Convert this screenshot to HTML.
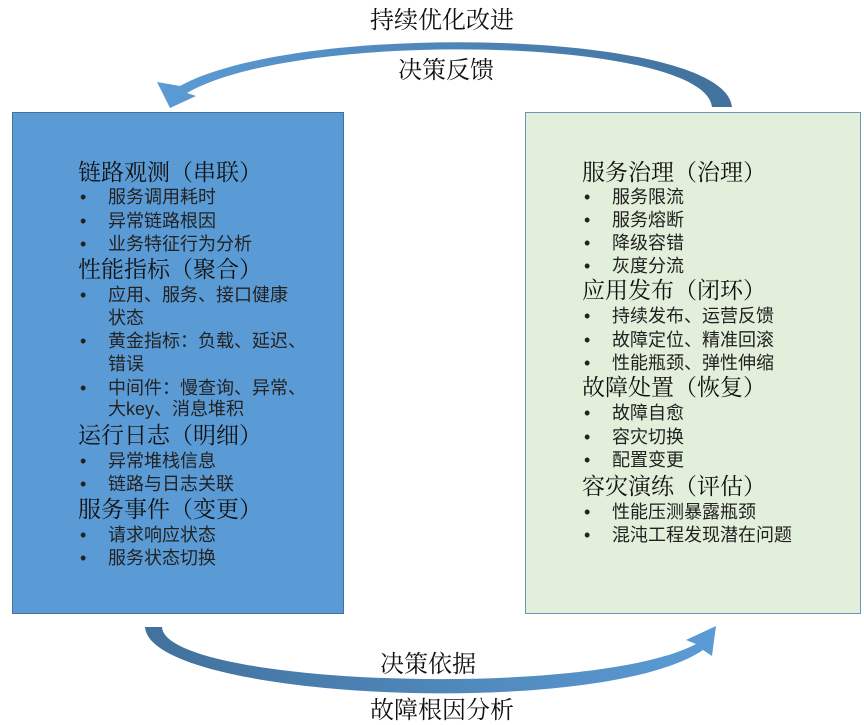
<!DOCTYPE html>
<html><head><meta charset="utf-8"><style>
html,body{margin:0;padding:0;background:#fff;}
svg{display:block;}
.h{font-family:"Liberation Serif","Noto Serif CJK SC",serif;font-size:23px;fill:#111;}
.b{font-family:"Liberation Sans","Noto Sans CJK SC",sans-serif;font-size:18px;fill:#222;}
.t{font-family:"Liberation Serif","Noto Serif CJK SC",serif;font-size:24px;fill:#111;}
</style></head><body>
<svg width="864" height="725" viewBox="0 0 864 725" xmlns="http://www.w3.org/2000/svg">
<defs>
<linearGradient id="g1" x1="0" y1="0" x2="1" y2="0">
<stop offset="0" stop-color="#5b9bd5"/><stop offset="1" stop-color="#41719c"/></linearGradient>
<linearGradient id="g2" x1="0" y1="0" x2="1" y2="0">
<stop offset="0" stop-color="#41719c"/><stop offset="1" stop-color="#5b9bd5"/></linearGradient>
</defs>
<rect x="12.5" y="112.5" width="331" height="501" fill="#5b9bd5" stroke="#41719c" stroke-width="1"/>
<rect x="525.5" y="112.5" width="335" height="501" fill="#e2efda" stroke="#6f94b8" stroke-width="1"/>
<path d="M732,107 C725,30 300,20 180,86 L157,82 L170,108 L196,96 L187,93 C300,28 705,38 712,107 Z" fill="url(#g1)"/>
<path d="M145,627 C150,700 600,720 703,650 L712,656 L716,626 L686,640 L696,644 C590,700 165,685 162,627 Z" fill="url(#g2)"/>
<text class="t" x="370" y="28">持续优化改进</text>
<text class="t" x="398" y="78">决策反馈</text>
<text class="t" x="380" y="672">决策依据</text>
<text class="t" x="370" y="718">故障根因分析</text>
<g class="b">
<text x="78" y="180" class="h">链路观测（串联）</text>
<text x="80" y="203">•</text><text x="108" y="203">服务调用耗时</text>
<text x="80" y="227">•</text><text x="108" y="227">异常链路根因</text>
<text x="80" y="250">•</text><text x="108" y="250">业务特征行为分析</text>
<text x="78" y="277" class="h">性能指标（聚合）</text>
<text x="80" y="301">•</text><text x="108" y="301">应用、服务、接口健康</text>
<text x="108" y="324">状态</text>
<text x="80" y="347">•</text><text x="108" y="347">黄金指标：负载、延迟、</text>
<text x="108" y="370">错误</text>
<text x="80" y="394">•</text><text x="108" y="394">中间件：慢查询、异常、</text>
<text x="108" y="415">大key、消息堆积</text>
<text x="78" y="443" class="h">运行日志（明细）</text>
<text x="80" y="467">•</text><text x="108" y="467">异常堆栈信息</text>
<text x="80" y="490">•</text><text x="108" y="490">链路与日志关联</text>
<text x="78" y="517" class="h">服务事件（变更）</text>
<text x="80" y="541">•</text><text x="108" y="541">请求响应状态</text>
<text x="80" y="564">•</text><text x="108" y="564">服务状态切换</text>

<text x="582" y="180" class="h">服务治理（治理）</text>
<text x="584" y="203">•</text><text x="612" y="203">服务限流</text>
<text x="584" y="226">•</text><text x="612" y="226">服务熔断</text>
<text x="584" y="249">•</text><text x="612" y="249">降级容错</text>
<text x="584" y="272">•</text><text x="612" y="272">灰度分流</text>
<text x="582" y="298" class="h">应用发布（闭环）</text>
<text x="584" y="322">•</text><text x="612" y="322">持续发布、运营反馈</text>
<text x="584" y="346">•</text><text x="612" y="346">故障定位、精准回滚</text>
<text x="584" y="369">•</text><text x="612" y="369">性能瓶颈、弹性伸缩</text>
<text x="582" y="395" class="h">故障处置（恢复）</text>
<text x="584" y="419">•</text><text x="612" y="419">故障自愈</text>
<text x="584" y="443">•</text><text x="612" y="443">容灾切换</text>
<text x="584" y="466">•</text><text x="612" y="466">配置变更</text>
<text x="582" y="494" class="h">容灾演练（评估）</text>
<text x="584" y="518">•</text><text x="612" y="518">性能压测暴露瓶颈</text>
<text x="584" y="541">•</text><text x="612" y="541">混沌工程发现潜在问题</text>
</g>
</svg>
</body></html>
